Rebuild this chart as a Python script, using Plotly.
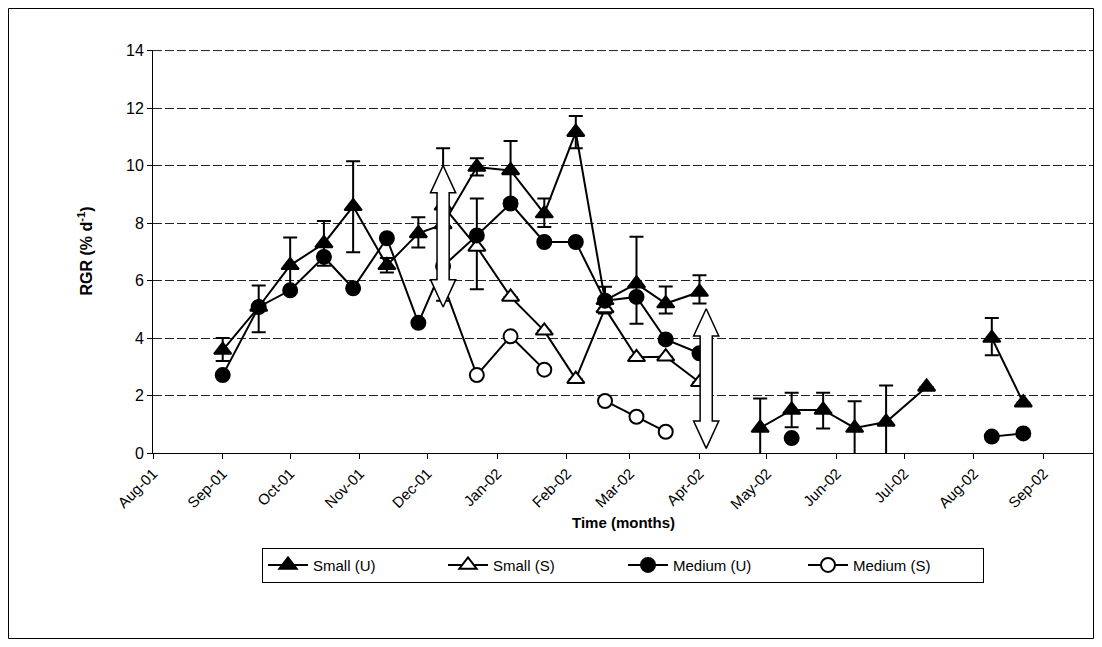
import pandas as pd
import plotly.graph_objects as go

# ---------------- data ----------------
dates = ["2001-09-01", "2001-09-17", "2001-10-01", "2001-10-16", "2001-10-29",
         "2001-11-13", "2001-11-27", "2001-12-08", "2001-12-23", "2002-01-07",
         "2002-01-22", "2002-02-05", "2002-02-18", "2002-03-04", "2002-03-17",
         "2002-04-01", "2002-04-14", "2002-04-28", "2002-05-12", "2002-05-26",
         "2002-06-09", "2002-06-23", "2002-07-11", "2002-07-25", "2002-08-09",
         "2002-08-23"]

small_u = [3.58, 5.08, 6.53, 7.29, 8.58, 6.53, 7.64, 7.95, 9.95, 9.83, 8.33, 11.16,
           5.31, 5.89, 5.20, 5.60, None, 0.87, 1.50, 1.50, 0.87, 1.08, 2.30, None,
           4.00, 1.75]
small_u_err_plus = [0.42, 0.75, 0.97, 0.78, 1.57, 0.25, 0.56, 2.65, 0.30, 1.02, 0.52,
                    0.56, 0.47, 1.63, 0.59, 0.58, 0, 1.03, 0.60, 0.60, 0.93, 1.27,
                    0, 0, 0.70, 0]
small_u_err_minus = [0.38, 0.88, 0.97, 0.78, 1.60, 0.25, 0.49, 2.65, 0.30, 1.03, 0.47,
                     0.56, 0.46, 1.39, 0.35, 0.40, 0, 1.01, 0.60, 0.65, 0.92, 1.28,
                     0, 0, 0.60, 0]

small_s = [None, None, None, None, None, None, None, 8.60, 7.17, 5.43, 4.25, 2.57,
           5.03, 3.33, 3.35, 2.46, None, None, None, None, None, None, None, None,
           None, None]
small_s_err_plus = [0, 0, 0, 0, 0, 0, 0, 0, 1.68, 0, 0, 0, 0, 0, 0, 0,
                    0, 0, 0, 0, 0, 0, 0, 0, 0, 0]
small_s_err_minus = [0, 0, 0, 0, 0, 0, 0, 0, 1.47, 0, 0, 0, 0, 0, 0, 0,
                     0, 0, 0, 0, 0, 0, 0, 0, 0, 0]

medium_u = [2.71, 5.08, 5.66, 6.82, 5.73, 7.47, 4.53, 6.50, 7.57, 8.68, 7.34, 7.34,
            5.30, 5.43, 3.95, 3.47, None, None, 0.52, None, None, None, None, None,
            0.57, 0.68]

medium_s = [None, None, None, None, None, None, None, 5.90, 2.71, 4.06, 2.90, None,
            1.81, 1.26, 0.74, None, None, None, None, None, None, None, None, None,
            None, None]

# double-headed arrow annotations: centre date, top value, bottom value
arrow_dates = ["2001-12-08", "2002-04-04"]
arrow_tops = [10.0, 5.02]
arrow_bottoms = [5.08, 0.16]

x_range = ["2001-08-01", "2002-09-23"]
y_range = [0, 14.02]
y_top_grid = 14

FONT = "Arial, 'Liberation Sans', sans-serif"

fig = go.Figure()

def add_series(name, y, symbol, fill, err_plus=None, err_minus=None):
    err = None
    if err_plus is not None:
        err = dict(type="data", symmetric=False, array=err_plus, arrayminus=err_minus,
                   color="black", thickness=2, width=7, visible=True)
    fig.add_trace(go.Scatter(
        x=pd.to_datetime(dates), y=y, name=name, mode="lines+markers",
        line=dict(color="black", width=2),
        marker=dict(symbol=symbol, size=14 if "circle" in symbol else 15,
                    color=fill, line=dict(color="black", width=2)),
        error_y=err, connectgaps=False, cliponaxis=False,
    ))

add_series("Small (U)", small_u, "triangle-up", "black", small_u_err_plus, small_u_err_minus)
add_series("Small (S)", small_s, "triangle-up", "white", small_s_err_plus, small_s_err_minus)
add_series("Medium (U)", medium_u, "circle", "black")
add_series("Medium (S)", medium_s, "circle", "white")

# arrows drawn as white filled polygons
head_half = pd.Timedelta(days=5.6)
shaft_half = pd.Timedelta(days=2.7)
head_len = 0.95
for d, top, bot in zip(arrow_dates, arrow_tops, arrow_bottoms):
    c = pd.Timestamp(d)
    xs = [c, c + head_half, c + shaft_half, c + shaft_half, c + head_half, c,
          c - head_half, c - shaft_half, c - shaft_half, c - head_half, c]
    ys = [top, top - head_len, top - head_len, bot + head_len, bot + head_len, bot,
          bot + head_len, bot + head_len, top - head_len, top - head_len, top]
    fig.add_trace(go.Scatter(x=xs, y=ys, mode="lines", fill="toself",
                             fillcolor="white", line=dict(color="black", width=1.5),
                             showlegend=False, hoverinfo="skip"))

W, H = 1086, 631
L, T, PH, PW = 145, 42, 403, 940
fig.update_layout(
    width=W, height=H,
    paper_bgcolor="white", plot_bgcolor="white",
    margin=dict(l=L, r=W - L - PW, t=T, b=H - T - PH, pad=0),
    font=dict(family=FONT, size=15, color="black"),
    showlegend=True,
    legend=dict(orientation="h", x=0.5, xanchor="center", y=-0.235, yanchor="top",
                bordercolor="black", borderwidth=1, bgcolor="white",
                font=dict(family=FONT, size=15), itemwidth=40,
                entrywidth=125, entrywidthmode="pixels", tracegroupgap=0),
    xaxis=dict(type="date", range=x_range, tick0="2001-08-01", dtick="M1",
               tickformat="%b-%y", tickangle=-45, showgrid=False,
               showline=True, linecolor="black", linewidth=1,
               ticks="outside", ticklen=5, tickcolor="black",
               tickfont=dict(family=FONT, size=15), zeroline=False),
    yaxis=dict(range=y_range, dtick=2, tick0=0, showgrid=True, gridcolor="#222",
               griddash="9px,3px", gridwidth=1, showline=True, linecolor="black",
               linewidth=1, ticks="outside", ticklen=5, tickcolor="black",
               tickfont=dict(family=FONT, size=16), zeroline=False),
    annotations=[
        dict(text="<b>Time (months)</b>", xref="paper", yref="paper", x=0.5,
             y=(PH - (522 - 50)) / PH, xanchor="center", yanchor="middle",
             showarrow=False, font=dict(family=FONT, size=15)),
        dict(text="<b>RGR (% d<sup>-1</sup>)</b>", xref="paper", yref="paper",
             x=(85 - 153) / PW, y=0.5, xanchor="center", yanchor="middle",
             textangle=-90, showarrow=False, font=dict(family=FONT, size=16)),
    ],
    shapes=[
        dict(type="rect", xref="paper", yref="paper",
             x0=(0.5 - L) / PW, x1=(W - 0.5 - L) / PW,
             y0=(T + PH - (H - 0.5)) / PH, y1=(T + PH - 0.5) / PH,
             line=dict(color="black", width=1), fillcolor="rgba(0,0,0,0)",
             layer="below"),
        dict(type="line", xref="paper", yref="y", x0=0, x1=1,
             y0=y_top_grid, y1=y_top_grid,
             line=dict(color="#222", width=1, dash="9px,3px"), layer="below"),
    ],
)

fig.write_html("out.html")
